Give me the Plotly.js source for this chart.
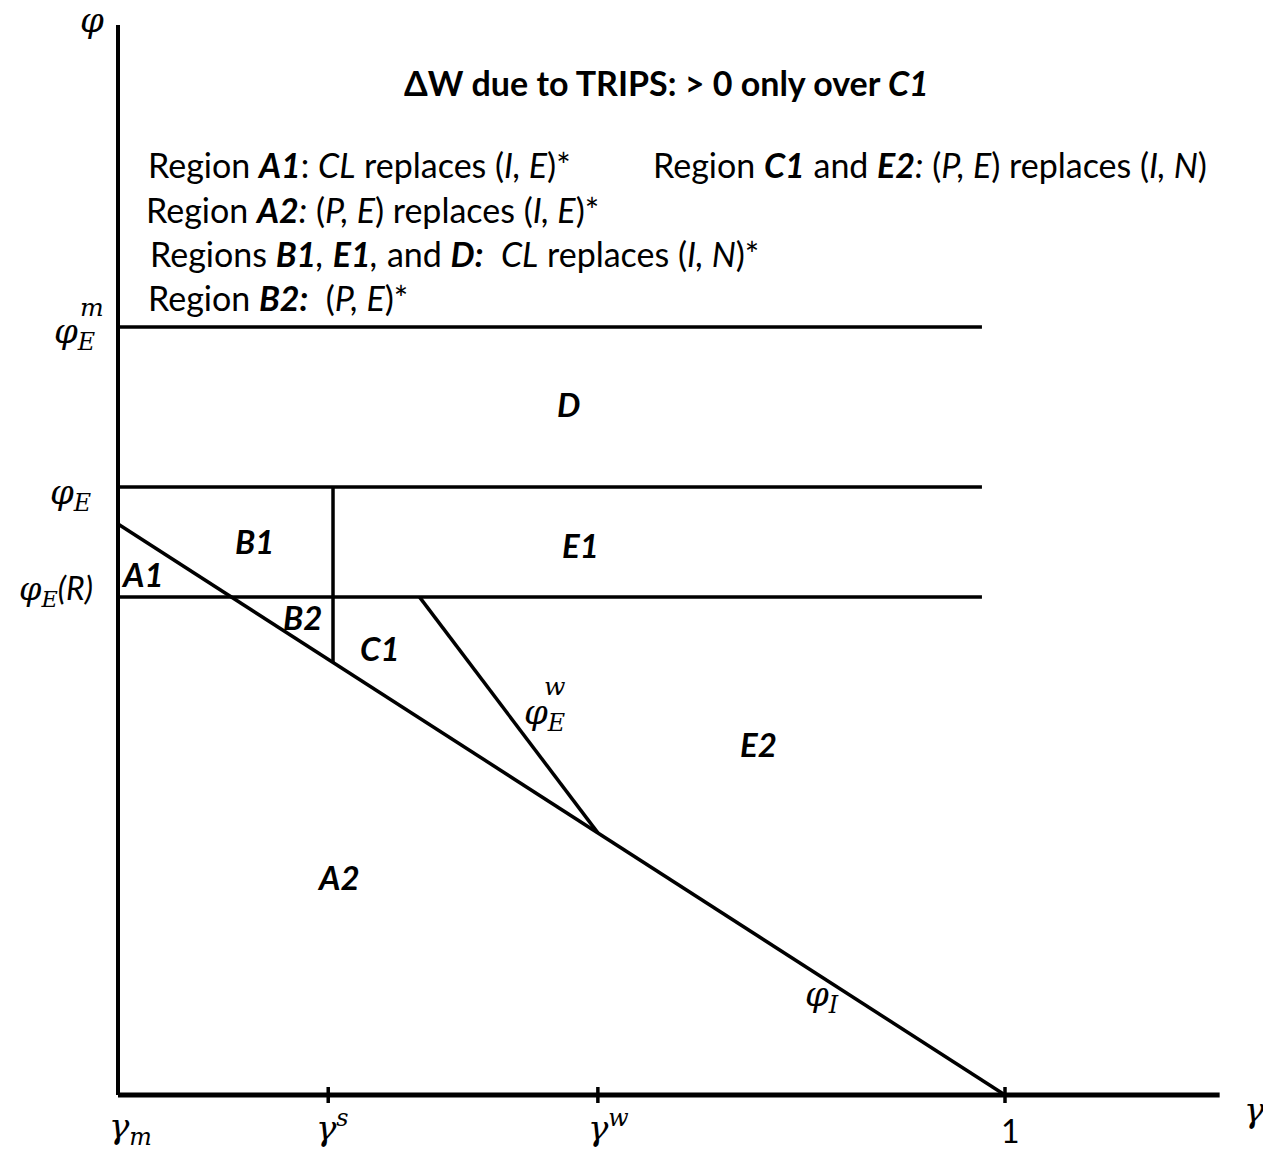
<!DOCTYPE html>
<html>
<head>
<meta charset="utf-8">
<script src="https://cdn.plot.ly/plotly-3.0.1.min.js"></script>
<style>html,body{margin:0;padding:0;background:#fff;}#chart{width:1263px;height:1153px;}</style>
</head>
<body>
<div id="chart"></div>
<script>
// ---- data (model units: gamma from gamma_m=0 to 1; phi scaled so phi_I(gamma_m)=1) ----
const gammaTickVals = [0.237, 0.541, 1];
const gammaTickLabels = ['γ<sup>s</sup>', 'γ<sup>w</sup>', '1'];
const phiIIntercept = 1;      // phi_I at gamma_m
const phiIRoot = 1;           // phi_I reaches 0 at gamma = 1
const phiER = 0.872;          // phi_E(R)
const phiE = 1.065;           // phi_E
const phiEm = 1.345;          // phi_E^m
const hLineEnd = 0.974;       // horizontal lines end
const gammaSLine = 0.2424;    // vertical boundary between B and C/E1 regions
const gammaW = 0.541;
const phiEwTopGamma = 0.340;  // phi_E^w meets phi_E(R)
const axisTop = 1.874;
const axisRight = 1.242;

function phiI(g){ return phiIIntercept * (1 - g / phiIRoot); }

const W = 1263, H = 1153;
const X = px => px / W;
const Y = py => 1 - py / H;

const line = (x, y, w) => ({type:'scatter', mode:'lines', x, y, line:{color:'#000', width:w}, hoverinfo:'skip', showlegend:false, cliponaxis:false});

const traces = [
  line([0,0],[0,axisTop],4),
  line([0,axisRight],[0,0],5),
  line([0,phiIRoot],[phiI(0),phiI(phiIRoot)],3.5),
  line([0,hLineEnd],[phiEm,phiEm],3.5),
  line([0,hLineEnd],[phiE,phiE],3.5),
  line([0,hLineEnd],[phiER,phiER],3.5),
  line([gammaSLine,gammaSLine],[phiI(gammaSLine),phiE],3.5),
  line([phiEwTopGamma,gammaW],[phiER,phiI(gammaW)],3.5)
];
gammaTickVals.forEach(g => traces.push(line([g,g],[-0.014,0.014],3.5)));

const sans = 'Lato, "Open Sans", sans-serif';
const serif = '"DejaVu Serif", "Liberation Serif", serif';
const txtSize = 34;

const ann = [];
function A(text, px, py, opts){
  ann.push(Object.assign({text, x:X(px), y:Y(py), xref:'paper', yref:'paper', showarrow:false,
    xanchor:'center', yanchor:'middle', font:{family:sans, size:txtSize, color:'#000'}}, opts||{}));
}
// title and legend lines
A('<b>ΔW due to TRIPS: &gt; 0 only over <i>C1</i></b>', 666, 82);
A('Region <b><i>A1</i></b>: <i>CL</i> replaces (<i>I, E</i>)*', 146, 165, {xanchor:'left'});
A('Region <b><i>C1</i></b> and <b><i>E2</i></b><i>:</i> (<i>P, E</i>) replaces (<i>I, N</i>)', 651, 165, {xanchor:'left'});
A('Region <b><i>A2</i></b><i>:</i> (<i>P, E</i>) replaces (<i>I, E</i>)*', 144, 210, {xanchor:'left'});
A('Regions <b><i>B1</i></b><i>,</i> <b><i>E1</i></b><i>,</i> and <b><i>D:</i></b>  <i>CL</i> replaces (<i>I, N</i>)*', 148, 254, {xanchor:'left'});
A('Region <b><i>B2:</i></b>  (<i>P, E</i>)*', 146, 297, {xanchor:'left'});
// region labels
const regionLabels = [['D',568,404],['B1',254,541],['E1',580,545],['A1',142,574],['B2',302,617],['C1',380,648],['E2',758,744],['A2',338,877]];
regionLabels.forEach(r => A('<b><i>'+r[0]+'</i></b>', r[1], r[2], {font:{family:sans,size:33,color:'#000'}}));
// math labels
const mf = {family:serif, size:34, color:'#000'};
A('<i>φ</i>', 92, 20, {font:mf});
A('<i>φ</i><sub><i>E</i></sub>', 70, 494, {font:mf});
A('<i>φ</i><sub><i>E</i></sub><i><span style="font-family:Lato">(R)</span></i>', 56, 590, {font:Object.assign({},mf,{size:32})});
A('<i>φ</i><sub><i>E</i></sub>', 74, 334, {font:mf});
A('<i>m</i>', 92, 307, {font:{family:serif,size:25,color:'#000'}});
A('<i>φ</i><sub><i>E</i></sub>', 544, 714, {font:mf});
A('<i>w</i>', 554, 686, {font:{family:serif,size:25,color:'#000'}});
A('<i>φ</i><sub><i>I</i></sub>', 822, 996, {font:mf});
// x tick labels
A('<i>γ<sub>m</sub></i>', 130, 1128, {font:mf});
A('<i>γ<sup>s</sup></i>', 332, 1126, {font:mf});
A('<i>γ<sup>w</sup></i>', 608, 1126, {font:mf});
A('1', 1010, 1130, {font:{family:sans,size:32,color:'#000'}});
A('<i>γ</i>', 1254, 1110, {font:mf});

const layout = {
  width:W, height:H, margin:{l:0,r:0,t:0,b:0},
  paper_bgcolor:'#fff', plot_bgcolor:'#fff',
  xaxis:{range:[-118/887,(W-118)/887], visible:false, fixedrange:true},
  yaxis:{range:[(1095-H)/571,1095/571], visible:false, fixedrange:true},
  annotations:ann, showlegend:false
};
Plotly.newPlot('chart', traces, layout, {staticPlot:true});
</script>
</body>
</html>
